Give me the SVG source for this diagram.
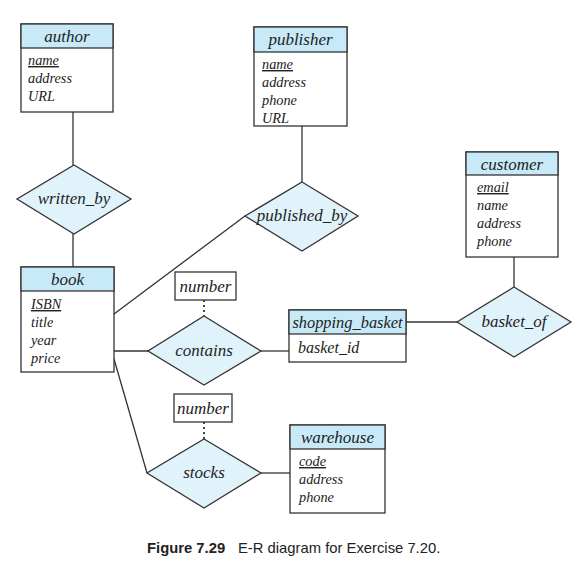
<svg xmlns="http://www.w3.org/2000/svg" width="585" height="583" viewBox="0 0 585 583">
<style>
.box{fill:#fff;stroke:#333;stroke-width:1.3}
.hdr{fill:#c7e9f8;stroke:#333;stroke-width:1.3}
.dia{fill:#e0f3fb;stroke:#333;stroke-width:1.3}
.ln{stroke:#333;stroke-width:1.3;fill:none}
.dot{stroke:#333;stroke-width:1.8;stroke-dasharray:2 3;fill:none}
.t{font-family:"Liberation Serif",serif;font-style:italic;font-size:17px;fill:#222;text-anchor:middle}
.a{font-family:"Liberation Serif",serif;font-style:italic;font-size:14.3px;fill:#222}
.u{text-decoration:underline}
.cap{font-family:"Liberation Sans",Arial,sans-serif;font-size:14.8px;fill:#222}
</style>
<rect width="585" height="583" fill="#fff"/>
<g id="connectors">
<line class="ln" x1="73" y1="112" x2="73" y2="165"/>
<line class="ln" x1="73" y1="234" x2="73" y2="267"/>
<line class="ln" x1="302" y1="126" x2="302" y2="182"/>
<line class="ln" x1="114" y1="314" x2="245" y2="216"/>
<line class="ln" x1="114" y1="351" x2="148" y2="351"/>
<line class="ln" x1="261" y1="351" x2="289" y2="351"/>
<line class="ln" x1="406" y1="322" x2="457" y2="322"/>
<line class="ln" x1="514" y1="257" x2="514" y2="287"/>
<line class="ln" x1="114" y1="359" x2="147" y2="473"/>
<line class="ln" x1="261" y1="473" x2="290" y2="473"/>
<line class="dot" x1="204" y1="300" x2="204" y2="316"/>
<line class="dot" x1="204" y1="422" x2="204" y2="439"/>
</g>
<g id="author">
<rect class="box" x="21" y="24" width="92" height="88"/>
<rect class="hdr" x="21" y="24" width="92" height="24"/>
<text class="t" x="67" y="41.5">author</text>
<text class="a u" x="28" y="65">name</text>
<text class="a" x="28" y="83">address</text>
<text class="a" x="28" y="101">URL</text>
</g>
<g id="publisher">
<rect class="box" x="254" y="27" width="93" height="99"/>
<rect class="hdr" x="254" y="27" width="93" height="25"/>
<text class="t" x="300.5" y="45">publisher</text>
<text class="a u" x="262" y="69">name</text>
<text class="a" x="262" y="87">address</text>
<text class="a" x="262" y="105">phone</text>
<text class="a" x="262" y="123">URL</text>
</g>
<g id="written_by">
<polygon class="dia" points="74,165 131,199 74,234 17,199"/>
<text class="t" x="74" y="204">written_by</text>
</g>
<g id="published_by">
<polygon class="dia" points="302,182 358,216 302,251 245,216"/>
<text class="t" x="302" y="221">published_by</text>
</g>
<g id="book">
<rect class="box" x="21" y="267" width="93" height="105"/>
<rect class="hdr" x="21" y="267" width="93" height="24"/>
<text class="t" x="67.5" y="284.5">book</text>
<text class="a u" x="31" y="309">ISBN</text>
<text class="a" x="31" y="327">title</text>
<text class="a" x="31" y="345">year</text>
<text class="a" x="31" y="363">price</text>
</g>
<g id="number1">
<rect class="box" x="175" y="272" width="61" height="28"/>
<text class="t" x="205.5" y="291.5">number</text>
</g>
<g id="contains">
<polygon class="dia" points="204,316 261,351 204,385 148,351"/>
<text class="t" x="204" y="355.5">contains</text>
</g>
<g id="shopping_basket">
<rect class="box" x="289" y="310" width="117" height="52"/>
<rect class="hdr" x="289" y="310" width="117" height="24"/>
<text class="t" x="347.5" y="327.5" style="font-size:16.4px">shopping_basket</text>
<text class="a" x="298" y="352.5" style="font-size:16px">basket_id</text>
</g>
<g id="customer">
<rect class="box" x="466" y="152" width="92" height="105"/>
<rect class="hdr" x="466" y="152" width="92" height="23"/>
<text class="t" x="512" y="169.5">customer</text>
<text class="a u" x="477" y="192">email</text>
<text class="a" x="477" y="210">name</text>
<text class="a" x="477" y="228">address</text>
<text class="a" x="477" y="246">phone</text>
</g>
<g id="basket_of">
<polygon class="dia" points="514,287 571,322 514,357 457,322"/>
<text class="t" x="514" y="327">basket_of</text>
</g>
<g id="number2">
<rect class="box" x="174" y="394" width="58" height="28"/>
<text class="t" x="203" y="413.5">number</text>
</g>
<g id="stocks">
<polygon class="dia" points="204,439 261,473 204,508 147,473"/>
<text class="t" x="204" y="478">stocks</text>
</g>
<g id="warehouse">
<rect class="box" x="290" y="425" width="95" height="88"/>
<rect class="hdr" x="290" y="425" width="95" height="24"/>
<text class="t" x="337.5" y="442.5">warehouse</text>
<text class="a u" x="299" y="466">code</text>
<text class="a" x="299" y="484">address</text>
<text class="a" x="299" y="502">phone</text>
</g>
<text class="cap" x="147" y="553"><tspan font-weight="bold">Figure 7.29</tspan><tspan x="238">E-R diagram for Exercise 7.20.</tspan></text>
</svg>
